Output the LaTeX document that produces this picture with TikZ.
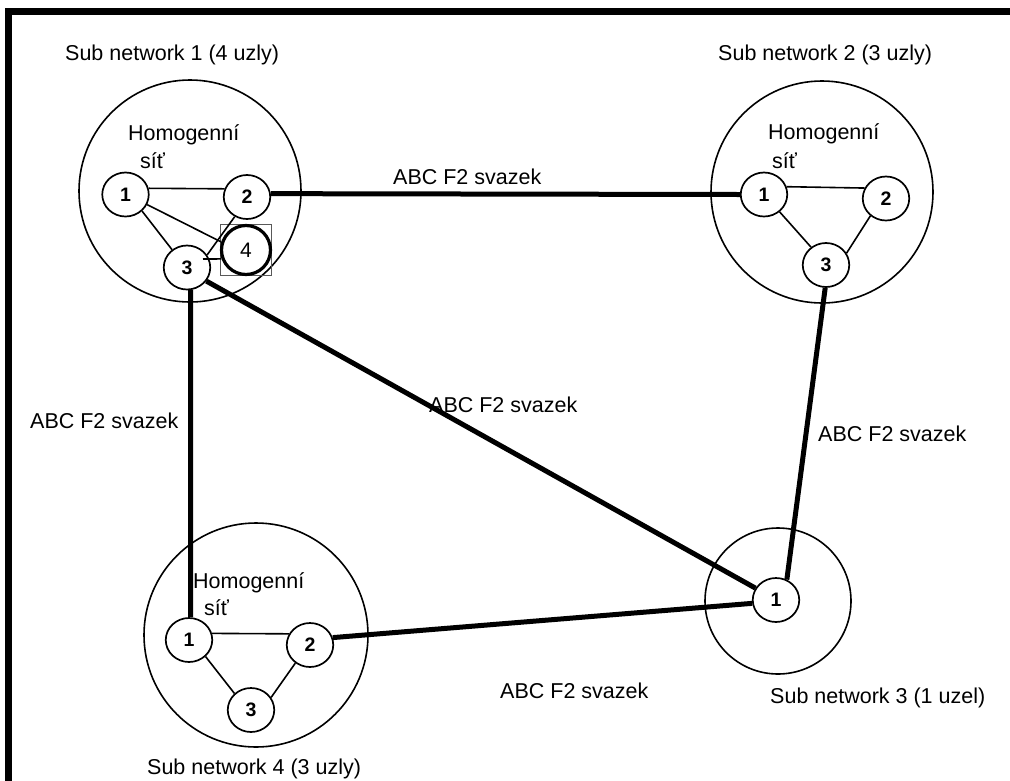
\documentclass[tikz,border=0pt]{standalone}
\usepackage{fontspec}
\setmainfont{Liberation Sans}
\usetikzlibrary{shapes.geometric}
\begin{document}
\begin{tikzpicture}[x=1pt,y=-1pt,
  net/.style={circle,draw,line width=1.6pt,inner sep=0pt},
  uzel/.style={ellipse,draw,line width=1.7pt,minimum width=46.5pt,minimum height=44pt,
    inner sep=0pt,font=\fontsize{19.5}{21}\selectfont\bfseries},
  link/.style={line width=1.6pt},
  svazek/.style={line width=5pt},
  lbl/.style={anchor=base west,inner sep=0pt,font=\fontsize{21.5}{26}\selectfont}]
\useasboundingbox (0,0) rectangle (1010,780);

% frame
\draw[line width=7pt] (8.5,790) -- (8.5,11.5) -- (1020,11.5);

% sub networks
\node[net,minimum size=222pt] (s1) at (190,191) {};
\node[net,minimum size=222pt] (s2) at (822,192) {};
\node[net,minimum size=146pt] (s3) at (778,601) {};
\node[net,minimum size=224pt] (s4) at (256,635) {};

% titles
\node[lbl] (t1) at (65,60) {Sub network 1 (4 uzly)};
\node[lbl] (t2) at (718,60) {Sub network 2 (3 uzly)};
\node[lbl] (t3) at (770,703) {Sub network 3 (1 uzel)};
\node[lbl] (t4) at (147,774.5) {Sub network 4 (3 uzly)};

\node[lbl] (h1) at (128,140) {Homogenní};
\node[lbl] (h1b) at (140,168) {síť};
\node[lbl] (h2) at (768,139) {Homogenní};
\node[lbl] (h2b) at (772,168) {síť};
\node[lbl] (h4) at (193,588) {Homogenní};
\node[lbl] (h4b) at (204,615) {síť};

% nodes of sub network 1
\node[uzel] (n11) at (125.5,194.5) {1};
\node[uzel] (n12) at (247,197) {2};
\node[uzel] (n13) at (187,267.5) {3};
\node[draw=black!65,line width=0.9pt,minimum size=51pt,inner sep=0pt] (q14) at (246,250) {};
\node[circle,draw,line width=3.2pt,minimum size=49pt,inner sep=0pt,
  font=\fontsize{21}{23}\selectfont] (n14) at (246,250) {4};
\coordinate (c34) at (203,259);

% nodes of sub network 2
\node[uzel] (n21) at (764,194.5) {1};
\node[uzel] (n22) at (886,198.5) {2};
\node[uzel] (n23) at (826,265) {3};

% node of sub network 3
\node[uzel] (n31) at (776,600) {1};

% nodes of sub network 4
\node[uzel] (n41) at (189,640) {1};
\node[uzel] (n42) at (310,645) {2};
\node[uzel] (n43) at (251,710) {3};

% links inside the sub networks
\draw[link] (n11.15) -- (n12.160);
\draw[link] (n11.-45) -- (n13.130);
\draw[link] (n11.-25) -- (n14.162);
\draw[link] (n12.238) -- (n13.32);
\draw[link] (n14.200) -- (c34);

\draw[link] (n21.19) -- (n22.154);
\draw[link] (n21.-48) -- (n23.130);
\draw[link] (n22.228) -- (n23.30);

\draw[link] (n41.16) -- (n42.152);
\draw[link] (n41.-45) -- (n43.135);
\draw[link] (n42.231) -- (n43.32);

% bundles between the sub networks
\draw[svazek] (n12.8) -- (n21.180);
\draw[svazek] (n13.-81) -- (n41.86);
\draw[svazek] (n13.-35) -- (n31.150);
\draw[svazek] (n42.18) -- (n31.188);
\draw[svazek] (n23.-92) -- (n31.62);

\node[lbl] (a1) at (393,184) {ABC F2 svazek};
\node[lbl] (a2) at (30,428) {ABC F2 svazek};
\node[lbl] (a3) at (429,412) {ABC F2 svazek};
\node[lbl] (a4) at (818,441) {ABC F2 svazek};
\node[lbl] (a5) at (500,698) {ABC F2 svazek};
\end{tikzpicture}
\end{document}
